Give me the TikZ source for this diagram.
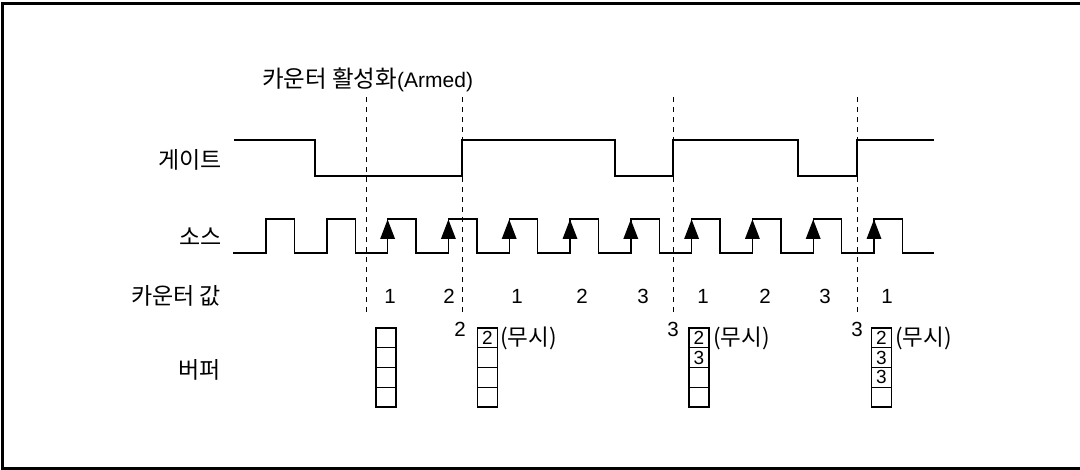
\documentclass[tikz,border=0pt]{standalone}
\usepackage{fontspec}
\setmainfont{Liberation Sans}
\newfontfamily\kr{Noto Sans CJK KR}
\begin{document}
\begin{tikzpicture}[x=1pt,y=-1pt,
  sig/.style={line width=1.4pt, line join=miter},
  guide/.style={line width=1pt, dash pattern=on 5pt off 5pt},
  lbl/.style={font=\kr\fontsize{23}{23}\selectfont, inner sep=0pt, anchor=east},
  cnt/.style={font=\fontsize{20.5}{20.5}\selectfont, inner sep=0pt},
  ign/.style={font=\kr\fontsize{22.5}{22.5}\selectfont, inner sep=0pt, anchor=west},
  cell/.style={draw, line width=1.2pt, minimum width=20pt, minimum height=19.75pt, inner sep=0pt, outer sep=0pt, font=\fontsize{19}{19}\selectfont},
  nextcell/.style={cell, anchor=north},
  arrowhead/.style={fill=black}
]
\useasboundingbox (0,0) rectangle (1080,470);
\draw[line width=3pt] (2.5,4) rectangle (1095,468.5);

% title
\node[inner sep=0pt, anchor=west] (armed) at (262,80) {{\kr\fontsize{23.5}{23.5}\selectfont 카운터 활성화}{\fontsize{21}{21}\selectfont(Armed)}};

% row labels
\node[lbl] (gate) at (222,160) {게이트};
\node[lbl] (src) at (222,237) {소스};
\node[lbl] (cntlbl) at (221,296) {카운터 값};
\node[lbl] (buf) at (221,370) {버퍼};

% guide lines
\foreach \gx in {366,462,673,857}
  \draw[guide] (\gx,97) -- (\gx,315);

% gate signal
\draw[sig] (234,140) -- (315,140) -- (315,176) -- (462,176) -- (462,140)
  -- (615,140) -- (615,176) -- (673,176) -- (673,140) -- (798,140)
  -- (798,176) -- (857,176) -- (857,140) -- (934,140);

% source signal
\draw[sig] (233,253) foreach \k in {0,...,10} {
  -- ({266+60.8*\k},253) -- ({266+60.8*\k},219) -- ({294.5+60.8*\k},219) -- ({294.5+60.8*\k},253) } -- (934,253);
\foreach \k in {2,...,10}
  \fill[arrowhead] ({266+60.8*\k},219.5) -- ++(-7.5,19.5) -- ++(15,0) -- cycle;

% counter values
\foreach \cx/\cv [count=\i] in {390/1,449/2,517/1,582/2,643/3,703/1,765/2,825/3,887/1}
  \node[cnt] (c\i) at (\cx,296) {\cv};

% buffers
\node[cell] (b1a) at (386,337.9) {};
\node[nextcell] (b1b) at (b1a.south) {};
\node[nextcell] (b1c) at (b1b.south) {};
\node[nextcell] (b1d) at (b1c.south) {};

\node[cell] (b2a) at (487.5,337.9) {2};
\node[nextcell] (b2b) at (b2a.south) {};
\node[nextcell] (b2c) at (b2b.south) {};
\node[nextcell] (b2d) at (b2c.south) {};
\node[cnt] (l2) at (460,329) {2};
\node[ign] (i2) at (500,338) {(무시)};

\node[cell] (b3a) at (699,337.9) {2};
\node[nextcell] (b3b) at (b3a.south) {3};
\node[nextcell] (b3c) at (b3b.south) {};
\node[nextcell] (b3d) at (b3c.south) {};
\node[cnt] (l3) at (673,329) {3};
\node[ign] (i3) at (713,338) {(무시)};

\node[cell] (b4a) at (881.5,337.9) {2};
\node[nextcell] (b4b) at (b4a.south) {3};
\node[nextcell] (b4c) at (b4b.south) {3};
\node[nextcell] (b4d) at (b4c.south) {};
\node[cnt] (l4) at (857,329) {3};
\node[ign] (i4) at (895,338) {(무시)};
\end{tikzpicture}
\end{document}
